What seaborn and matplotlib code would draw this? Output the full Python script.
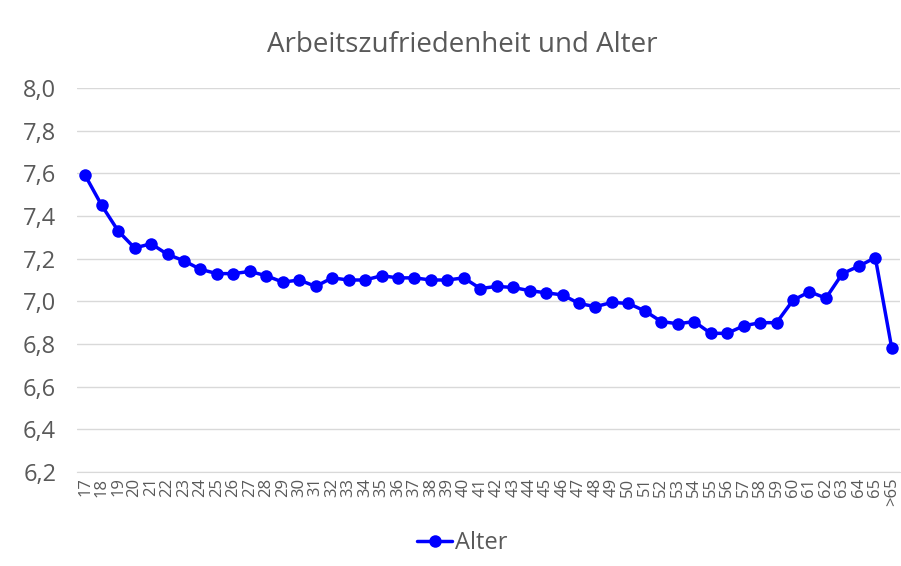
import matplotlib
matplotlib.use("Agg")
import matplotlib.pyplot as plt
import pandas as pd
import seaborn as sns

# Altersgruppen und mittlere Arbeitszufriedenheit
ages = [str(a) for a in range(17, 66)] + [">65"]
satisfaction = [
    7.59, 7.45, 7.33, 7.25, 7.27, 7.22, 7.19, 7.15, 7.13, 7.13,
    7.14, 7.12, 7.09, 7.10, 7.07, 7.11, 7.10, 7.10, 7.12, 7.11,
    7.11, 7.10, 7.10, 7.11, 7.06, 7.07, 7.065, 7.05, 7.04, 7.03,
    6.99, 6.975, 6.995, 6.99, 6.955, 6.905, 6.895, 6.905, 6.85, 6.85,
    6.885, 6.90, 6.90, 7.005, 7.045, 7.015, 7.13, 7.165, 7.205, 6.78,
]
y_ticks = [6.2, 6.4, 6.6, 6.8, 7.0, 7.2, 7.4, 7.6, 7.8, 8.0]

df = pd.DataFrame({"Alter": ages, "Zufriedenheit": satisfaction})

sns.set_style("white")
plt.rcParams["font.family"] = ["Open Sans", "DejaVu Sans"]
gray = "#595959"

fig = plt.figure(figsize=(9.01, 5.66), dpi=100)
ax = fig.add_axes([77 / 901, 1 - 472 / 566, 823 / 901, 384 / 566])

sns.lineplot(data=df, x="Alter", y="Zufriedenheit", sort=False, ax=ax,
             color="#0000ff", linewidth=2.5, marker="o", markersize=9,
             markeredgewidth=0, label="Alter", legend=False)

ax.set_xlim(-0.5, len(ages) - 0.5)
ax.set_ylim(6.2, 8.0)
ax.set_yticks(y_ticks)
ax.set_yticklabels([f"{v:.1f}".replace(".", ",") for v in y_ticks])
ax.set_xticks(range(len(ages)))
ax.set_xticklabels(ages, rotation=90)
ax.tick_params(axis="y", length=0, pad=15, labelsize=17, labelcolor=gray)
ax.tick_params(axis="x", length=0, pad=4, labelsize=12, labelcolor=gray)
ax.grid(axis="y", color="#d9d9d9", linewidth=1)
ax.set_axisbelow(True)
for side in ["top", "right", "left"]:
    ax.spines[side].set_visible(False)
ax.spines["bottom"].set_color("#d9d9d9")
ax.set_xlabel("")
ax.set_ylabel("")

fig.text(462 / 901, 1 - 45 / 566, "Arbeitszufriedenheit und Alter",
         ha="center", va="center", fontsize=20, color=gray)

handles, labels = ax.get_legend_handles_labels()
fig.legend(handles, labels, loc="center", bbox_to_anchor=(462 / 901, 1 - 543 / 566),
           frameon=False, fontsize=17, labelcolor=gray, handlelength=1.5,
           handletextpad=0.1)

fig.savefig("out.png", dpi=100)
